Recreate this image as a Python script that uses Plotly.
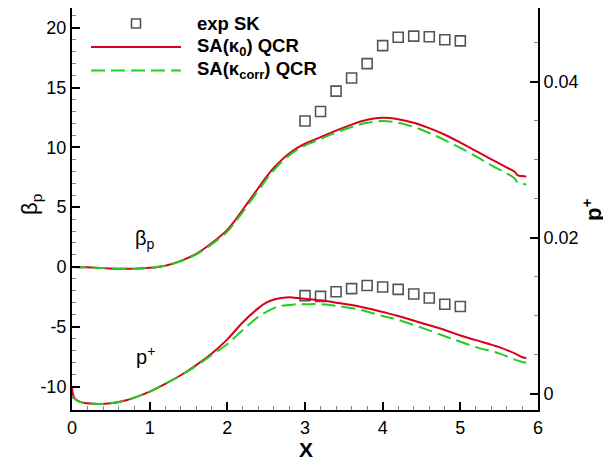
import plotly.graph_objects as go

# ---------------- data ----------------
x_exp = [3.0, 3.2, 3.4, 3.6, 3.8, 4.0, 4.2, 4.4, 4.6, 4.8, 5.0]
beta_exp = [12.2, 13.0, 14.7, 15.8, 17.0, 18.5, 19.2, 19.3, 19.25, 19.0, 18.9]
pplus_exp = [0.0126, 0.0125, 0.0131, 0.0135, 0.0139, 0.0137, 0.0134, 0.0128, 0.0123, 0.0115, 0.0112]

x_beta = [0.0, 0.2, 0.4, 0.6, 0.8, 1.0, 1.2, 1.4, 1.6, 1.8, 2.0, 2.1, 2.2, 2.3, 2.4, 2.5,
          2.6, 2.7, 2.8, 2.9, 3.0, 3.2, 3.4, 3.6, 3.8, 4.0, 4.2, 4.4, 4.6, 4.8, 5.0,
          5.2, 5.4, 5.6, 5.7, 5.74, 5.8, 5.85]
beta_k0 = [0.0, -0.03, -0.1, -0.15, -0.15, -0.08, 0.1, 0.5, 1.1, 2.0, 3.1, 3.9, 4.8, 5.7, 6.6, 7.5,
           8.3, 8.95, 9.5, 9.95, 10.3, 10.85, 11.4, 11.9, 12.3, 12.47, 12.35, 12.05, 11.6, 11.05, 10.4,
           9.7, 9.0, 8.3, 7.95, 7.65, 7.6, 7.55]
beta_kcorr = [0.0, -0.03, -0.1, -0.15, -0.15, -0.08, 0.1, 0.47, 1.05, 1.9, 2.95, 3.75, 4.6, 5.5, 6.4, 7.3,
              8.1, 8.8, 9.35, 9.8, 10.15, 10.7, 11.25, 11.7, 12.05, 12.2, 12.05, 11.7, 11.2, 10.6, 9.95,
              9.25, 8.5, 7.8, 7.4, 7.05, 6.95, 6.9]

x_p = [0.0, 0.01, 0.03, 0.1, 0.2, 0.35, 0.5, 0.7, 0.85, 1.0, 1.2, 1.4, 1.6, 1.8, 2.0, 2.2, 2.4,
       2.5, 2.6, 2.7, 2.8, 2.9, 3.0, 3.2, 3.4, 3.7, 4.0, 4.2, 4.5, 4.8, 5.0, 5.2, 5.5, 5.7, 5.8, 5.85]
pplus_k0 = [0.0008, 0.0001, -0.0005, -0.001, -0.0012, -0.00128, -0.0012, -0.0008, -0.0003, 0.0003, 0.0013,
            0.0024, 0.0037, 0.0052, 0.0070, 0.0092, 0.0110, 0.0117, 0.0121, 0.0123, 0.0124, 0.0123,
            0.0122, 0.0120, 0.0117, 0.0112, 0.0105, 0.0100, 0.0091, 0.0082, 0.0075, 0.0069, 0.0060,
            0.0052, 0.0047, 0.0046]
pplus_kcorr = [-0.0003, -0.0004, -0.0006, -0.001, -0.0012, -0.00128, -0.0012, -0.0008, -0.0003, 0.0003, 0.0013,
               0.0024, 0.0036, 0.0050, 0.0064, 0.0082, 0.0099, 0.0105, 0.0110, 0.0113, 0.0114, 0.0115,
               0.0115, 0.0115, 0.0113, 0.0108, 0.0100, 0.0095, 0.0085, 0.0074, 0.0067, 0.0060, 0.0052,
               0.0044, 0.0041, 0.0040]

left_tickvals = [-10, -5, 0, 5, 10, 15, 20]
left_ticktext = ["-10", "-5", "0", "5", "10", "15", "20"]
right_tickvals = [0, 0.02, 0.04]
right_ticktext = ["0", "0.02", "0.04"]
x_tickvals = [0, 1, 2, 3, 4, 5, 6]
x_ticktext = ["0", "1", "2", "3", "4", "5", "6"]

legend_labels = ["exp SK", "SA(κ<sub>0</sub>) QCR", "SA(κ<sub>corr</sub>) QCR"]

# ---------------- style ----------------
RED = "#d9001b"
GREEN = "#22cc22"
SQ = "#555555"
FONT = "Liberation Sans, Arial, sans-serif"
DASH = "14px,6px"

fig = go.Figure()

# experiment squares
fig.add_trace(go.Scatter(x=x_exp, y=beta_exp, mode="markers", yaxis="y",
                         marker=dict(symbol="square-open", size=10, color=SQ, line=dict(width=1.6)),
                         showlegend=False, name=legend_labels[0]))
fig.add_trace(go.Scatter(x=x_exp, y=pplus_exp, mode="markers", yaxis="y2",
                         marker=dict(symbol="square-open", size=10, color=SQ, line=dict(width=1.6)),
                         showlegend=False, name=legend_labels[0]))

# beta_p curves
fig.add_trace(go.Scatter(x=x_beta, y=beta_k0, mode="lines", yaxis="y", line_shape="spline",
                         line=dict(color=RED, width=2), showlegend=False, name=legend_labels[1]))
fig.add_trace(go.Scatter(x=x_beta, y=beta_kcorr, mode="lines", yaxis="y", line_shape="spline",
                         line=dict(color=GREEN, width=2, dash=DASH), showlegend=False, name=legend_labels[2]))
# p+ curves
fig.add_trace(go.Scatter(x=x_p, y=pplus_k0, mode="lines", yaxis="y2", line_shape="spline",
                         line=dict(color=RED, width=2), showlegend=False, name=legend_labels[1]))
fig.add_trace(go.Scatter(x=x_p, y=pplus_kcorr, mode="lines", yaxis="y2", line_shape="spline",
                         line=dict(color=GREEN, width=2, dash=DASH), showlegend=False, name=legend_labels[2]))

# The page body adds an 8px margin, so the figure is laid out in screen pixels minus 8.
OFF = 8
FIG_W, FIG_H = 611 - OFF, 460 - OFF
# plot area in screen pixels: x 72..538, y 8..410
LS, RS, TS, BS = 72, 538, 8, 410
L, R, T, B = LS - OFF, RS - OFF, TS - OFF, BS - OFF
W, H = R - L, B - T


def px(xs):
    return (xs - LS) / W


def py(ys):
    return (BS - ys) / H


# manual legend (screen pixel positions)
rows_y = [23.5, 47, 70.5]
fig.add_shape(type="rect", xref="paper", yref="paper",
              x0=px(131.5), x1=px(140.5), y0=py(rows_y[0] + 4.5), y1=py(rows_y[0] - 4.5),
              line=dict(color=SQ, width=1.6))
fig.add_shape(type="line", xref="paper", yref="paper", x0=px(91), x1=px(181),
              y0=py(rows_y[1]), y1=py(rows_y[1]), line=dict(color=RED, width=2))
fig.add_shape(type="line", xref="paper", yref="paper", x0=px(91), x1=px(181),
              y0=py(rows_y[2]), y1=py(rows_y[2]), line=dict(color=GREEN, width=2, dash=DASH))
for lab, yy in zip(legend_labels, rows_y):
    fig.add_annotation(x=px(195), y=py(yy), xref="paper", yref="paper", text="<b>" + lab + "</b>",
                       showarrow=False, xanchor="left", yanchor="middle",
                       font=dict(family=FONT, size=18.5, color="black"))

# in-plot labels
fig.add_annotation(x=0.94, y=2.3, xref="x", yref="y", text="β<sub>p</sub>", showarrow=False,
                   xanchor="center", yanchor="middle",
                   font=dict(family=FONT, size=20, color="black"))
fig.add_annotation(x=0.94, y=-7.4, xref="x", yref="y", text="p<sup>+</sup>", showarrow=False,
                   xanchor="center", yanchor="middle",
                   font=dict(family=FONT, size=20, color="black"))

# axis titles
fig.add_annotation(x=px(31), y=py(205), xref="paper", yref="paper", text="β<sub>p</sub>",
                   showarrow=False, textangle=-90, xanchor="center", yanchor="middle",
                   font=dict(family=FONT, size=22, color="black"))
fig.add_annotation(x=px(592), y=py(210), xref="paper", yref="paper", text="<b>p<sup>+</sup></b>",
                   showarrow=False, textangle=-90, xanchor="center", yanchor="middle",
                   font=dict(family=FONT, size=22, color="black"))
fig.add_annotation(x=px(306), y=py(449), xref="paper", yref="paper", text="<b>X</b>",
                   showarrow=False, xanchor="center", yanchor="middle",
                   font=dict(family=FONT, size=21, color="black"))

axis_common = dict(showline=True, linecolor="black", linewidth=2, ticks="inside", ticklen=8,
                   tickwidth=2, tickcolor="black", showgrid=False, zeroline=False,
                   tickfont=dict(family=FONT, size=18, color="black"))

fig.update_layout(
    width=FIG_W, height=FIG_H,
    margin=dict(l=L, r=FIG_W - R, t=T, b=FIG_H - B, pad=0),
    paper_bgcolor="white", plot_bgcolor="white",
    showlegend=False,
    xaxis=dict(range=[0, 6], tickmode="array", tickvals=x_tickvals, ticktext=x_ticktext,
               minor=dict(dtick=0.2, tick0=0, ticks="inside", ticklen=4, tickwidth=1, tickcolor="#888888"),
               **axis_common),
    yaxis=dict(range=[-11.965, 21.65], tickmode="array", tickvals=left_tickvals, ticktext=left_ticktext,
               minor=dict(dtick=1, tick0=0, ticks="inside", ticklen=4, tickwidth=1, tickcolor="#888888"),
               **axis_common),
    yaxis2=dict(range=[-0.00205, 0.04944], overlaying="y", side="right", anchor="x",
                tickmode="array", tickvals=right_tickvals, ticktext=right_ticktext,
                minor=dict(dtick=0.005, tick0=0, ticks="inside", ticklen=4, tickwidth=1, tickcolor="#888888"),
                **axis_common),
)

fig.write_html("out.html")
